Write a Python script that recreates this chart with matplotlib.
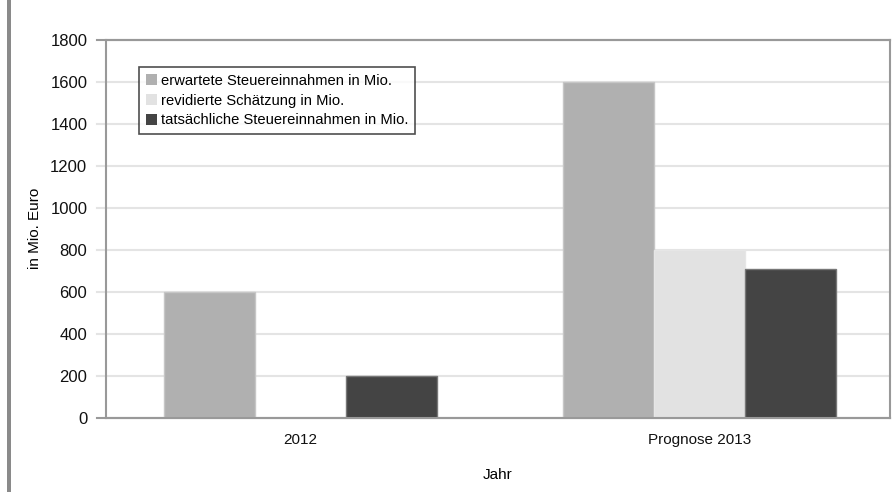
import numpy as np
import matplotlib
matplotlib.use('Agg')
import matplotlib.pyplot as plt
from matplotlib.patches import Rectangle

plt.rcParams['font.family'] = ['Liberation Sans', 'DejaVu Sans']

# Daten
kategorien = ['2012', 'Prognose 2013']
serien = ['erwartete Steuereinnahmen in Mio.',
          'revidierte Schätzung in Mio.',
          'tatsächliche Steuereinnahmen in Mio.']
erwartet = [600, 1600]
revidiert = [0, 800]
tatsaechlich = [200, 707]
y_ticks = [0, 200, 400, 600, 800, 1000, 1200, 1400, 1600, 1800]

farben = ['#b0b0b0', '#e2e2e2', '#444444']
kanten = ['#c6c6c6', '#e6e6e6', '#777777']

W, H = 892, 495
fig = plt.figure(figsize=(W / 100, H / 100), dpi=100)
ax = fig.add_axes([106 / W, (H - 417.5) / H, 784 / W, 377.5 / H])

# grauer Balken am linken Rand
fig.add_artist(Rectangle((7 / W, 3 / H), 4 / W, 492 / H, transform=fig.transFigure,
                         facecolor='#8a8a8a', edgecolor='none'))

x = np.arange(len(kategorien))
breite = 0.228
for i, (werte, name) in enumerate(zip([erwartet, revidiert, tatsaechlich], serien)):
    ax.bar(x + (i - 1) * breite, werte, breite, color=farben[i], edgecolor=kanten[i],
           linewidth=1, label=name, zorder=3)

ax.set_xlim(-0.4875, 1.477)
ax.set_ylim(0, 1800)

# Gitterlinien, etwas links über die Achse hinaus
for y in y_ticks:
    c = '#999999' if y in (0, 1800) else '#e4e4e4'
    ax.axhline(y, xmin=-9 / 784, xmax=1, color=c, lw=1.5, clip_on=False,
               zorder=4 if y in (0, 1800) else 1)

ax.set_yticks(y_ticks)
ax.set_xticks(x)
ax.set_xticklabels(kategorien)
ax.tick_params(axis='y', length=0, pad=13.5, labelsize=12, colors='#111111')
ax.tick_params(axis='x', length=0, pad=11, labelsize=11, colors='#111111')

for s in ['left', 'right', 'top', 'bottom']:
    ax.spines[s].set_color('#999999')
    ax.spines[s].set_linewidth(1.5)

ax.set_ylabel('in Mio. Euro', fontsize=11, labelpad=6)
ax.set_xlabel('Jahr', fontsize=11, labelpad=15)

leg = ax.legend(loc='upper left', bbox_to_anchor=(139 / W, (H - 67) / H),
                bbox_transform=fig.transFigure, fontsize=10.6, frameon=True,
                fancybox=False, handlelength=0.75, handleheight=0.75,
                handletextpad=0.3, labelspacing=0.4, borderpad=0.45,
                borderaxespad=0)
leg.get_frame().set_edgecolor('#222222')
leg.get_frame().set_linewidth(1.2)
for h in leg.legend_handles:
    h.set_edgecolor('none')

fig.savefig('out.png', dpi=100)
